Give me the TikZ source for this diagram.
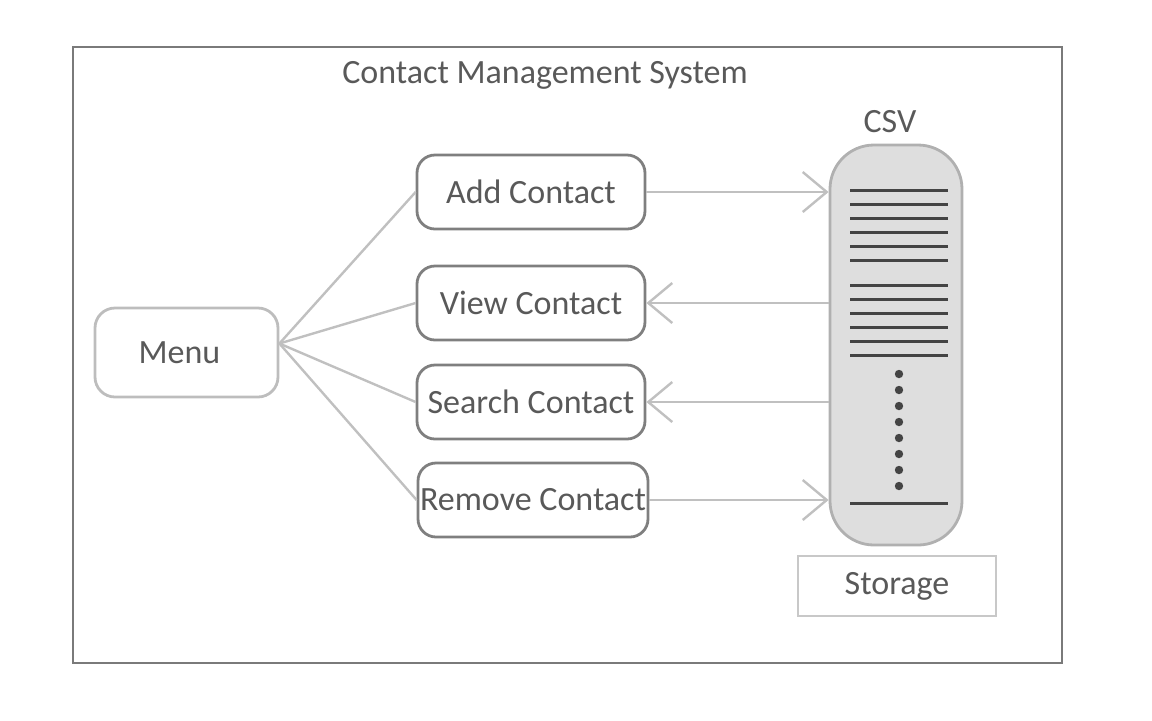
\documentclass[tikz,border=0pt]{standalone}
\usepackage{fontspec}
\setmainfont{Carlito}
\usetikzlibrary{arrows.meta}
\definecolor{txtgray}{HTML}{595959}
\definecolor{framegray}{HTML}{7A7A7A}
\definecolor{boxgray}{HTML}{7F7F7F}
\definecolor{menugray}{HTML}{BDBDBD}
\definecolor{linegray}{HTML}{C0C0C0}
\definecolor{csvfill}{HTML}{DEDEDE}
\definecolor{csvedge}{HTML}{B0B0B0}
\definecolor{storegray}{HTML}{C8C8C8}
\definecolor{rowgray}{HTML}{444444}
\begin{document}
\begin{tikzpicture}[x=0.5pt, y=-0.5pt, font=\fontsize{17}{20}\selectfont, text=txtgray,
	func/.style={draw=boxgray, line width=1.4pt, rounded corners=9pt, minimum width=114pt, minimum height=37pt, inner sep=1pt},
	link/.style={draw=linegray, line width=1.2pt},
	flow/.style={link, -{Straight Barb[length=12pt,width=20pt,line width=1.2pt]}}]
	\useasboundingbox (0,0) rectangle (1152,720);
	%frame
	\draw[framegray, line width=1pt] (73,47) rectangle (1062,663);
	\node (title) at (545,75) {Contact Management System};
	%menu
	\node[draw=menugray, line width=1.4pt, rounded corners=10pt, minimum width=91.5pt, minimum height=44.5pt, text width=80pt, inner xsep=5.75pt] (menu) at (186.5,352.5) {\hspace*{16pt}Menu};
	\coordinate (hub) at ([yshift=4.5pt]menu.east);
	%functions
	\node[func] (add) at (531,192) {Add Contact};
	\node[func] (view) at (531,303) {View Contact};
	\node[func] (search) at (531,402) {Search Contact};
	\node[func] (remove) at (533,500) {Remove Contact};
	%storage
	\node (csvlabel) at (890,122) {CSV};
	\node[draw=csvedge, fill=csvfill, line width=1.4pt, rounded corners=22pt, minimum width=66pt, minimum height=200pt] (csv) at (896,345) {};
	\foreach \y in {190,204,...,260}
	\draw[rowgray, line width=1.5pt] (850,\y) -- (948,\y);
	\foreach \y in {285,299,...,355}
	\draw[rowgray, line width=1.5pt] (850,\y) -- (948,\y);
	\draw[rowgray, line width=1.5pt] (850,503) -- (948,503);
	\foreach \y in {374,390,...,486}
	\fill[rowgray] (899,\y) circle (2.1pt);
	\node[draw=storegray, line width=1.2pt, minimum width=99pt, minimum height=30pt] (storage) at (897,586) {Storage};
	%links
	\foreach \f in {add,view,search,remove}
	\draw[link] (hub) -- (\f.west);
	\draw[flow] (add.east) -- (add.east -| csv.west);
	\draw[flow] (view.east -| csv.west) -- (view.east);
	\draw[flow] (search.east -| csv.west) -- (search.east);
	\draw[flow] (remove.east) -- (remove.east -| csv.west);
\end{tikzpicture}
\end{document}
